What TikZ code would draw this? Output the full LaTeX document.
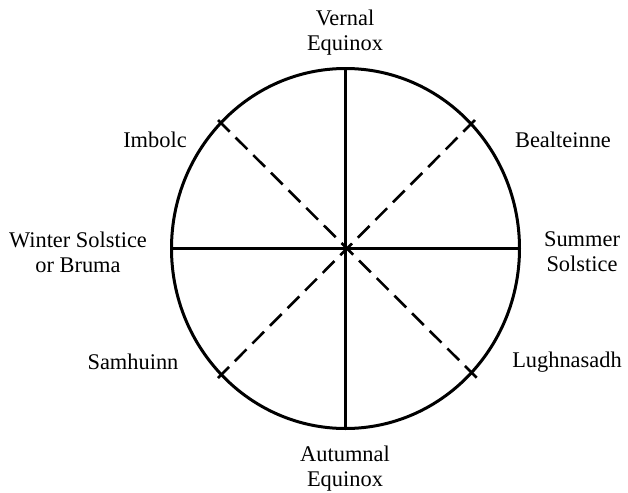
\documentclass[tikz,border=0pt]{standalone}
\usepackage{fontspec}
\setmainfont{Liberation Serif}
\usepackage{tikz}
\usetikzlibrary{calc}

\tikzset{
  season/.style={align=center,inner sep=0pt,font=\fontsize{11.2}{12.5}\selectfont},
  spoke/.style={line width=1.3pt},
  crossspoke/.style={line width=1.3pt,dash pattern=on 8.3pt off 4.15pt}
}

\begin{document}
\begin{tikzpicture}[x=0.5pt,y=-0.5pt,line width=1.5pt]
\useasboundingbox (0,0) rectangle (628,493);
\coordinate (c) at (345.5,248.5);
\draw (c) ellipse [x radius=174,y radius=180];
\coordinate (n) at (345.5,68.5);
\coordinate (s) at (345.5,428.5);
\coordinate (w) at (171.5,248.5);
\coordinate (e) at (519.5,248.5);
\coordinate (nw) at (218,120);
\coordinate (ne) at (475,120);
\coordinate (sw) at (218,378);
\coordinate (se) at (477,378);
\draw[spoke] (n)--(s);
\draw[spoke] (w)--(e);
\draw[crossspoke] (nw)--(se);
\draw[crossspoke] (ne)--(sw);
\node[season] (vernal) at (345,33) {Vernal\\Equinox};
\node[season] (autumnal) at (345,469) {Autumnal\\Equinox};
\node[season] (winter) at (78,252) {Winter Solstice\\or Bruma};
\node[season] (summer) at (582,252) {Summer\\Solstice};
\node[season] (imbolc) at (155,140) {Imbolc};
\node[season] (bealteinne) at (563,140) {Bealteinne};
\node[season] (samhuinn) at (133,362) {Samhuinn};
\node[season] (lughnasadh) at (567,362) {Lughnasadh};
\end{tikzpicture}
\end{document}
